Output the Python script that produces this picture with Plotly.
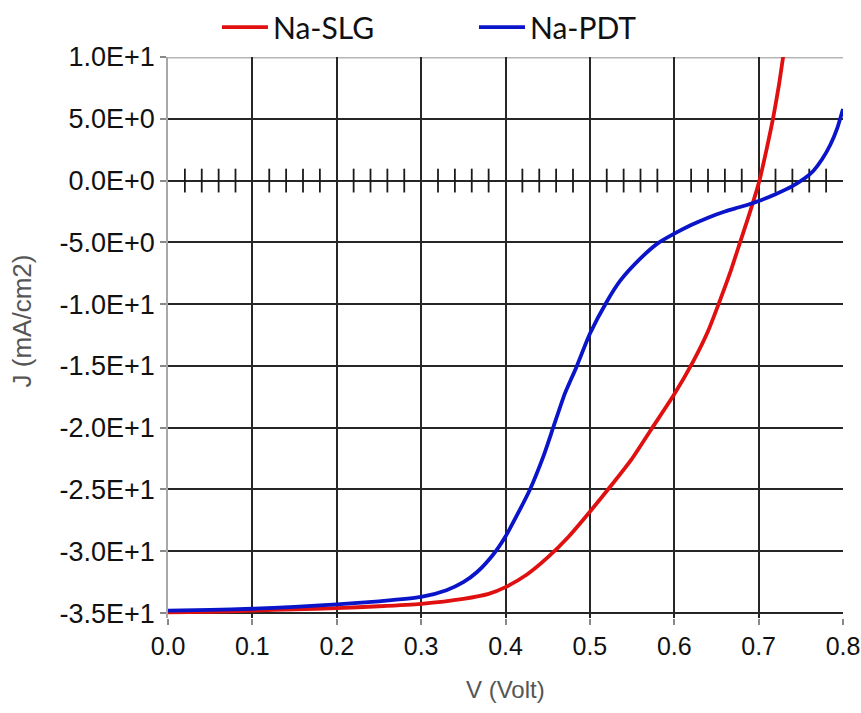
import plotly.graph_objects as go

# ---- data ----
v_slg = [0.0, 0.05, 0.1, 0.15, 0.2, 0.25, 0.3, 0.35, 0.38, 0.4, 0.425, 0.45, 0.475, 0.5,
         0.525, 0.55, 0.574, 0.6, 0.622, 0.64, 0.652, 0.666, 0.678, 0.69, 0.701, 0.71, 0.717,
         0.724, 0.729, 0.735]
j_slg = [-34.95, -34.9, -34.8, -34.7, -34.6, -34.45, -34.25, -33.85, -33.45, -32.9, -31.9, -30.5,
         -28.8, -26.8, -24.7, -22.5, -20.0, -17.3, -14.7, -12.2, -10.1, -7.5, -5.0, -2.5, 0.0,
         2.7, 5.0, 7.7, 10.0, 12.6]

v_pdt = [0.0, 0.05, 0.1, 0.15, 0.2, 0.25, 0.3, 0.33, 0.35, 0.366, 0.385, 0.4, 0.415, 0.429,
         0.445, 0.457, 0.47, 0.484, 0.5, 0.52, 0.536, 0.56, 0.58, 0.6, 0.62, 0.64, 0.66, 0.68,
         0.7, 0.72, 0.74, 0.755, 0.765, 0.775, 0.785, 0.793, 0.8]
j_pdt = [-34.8, -34.75, -34.65, -34.5, -34.3, -34.05, -33.7, -33.15, -32.5, -31.7, -30.3, -28.8,
         -26.9, -25.0, -22.3, -19.9, -17.3, -15.1, -12.4, -9.8, -8.1, -6.3, -5.1, -4.3, -3.6,
         -3.0, -2.5, -2.1, -1.65, -1.1, -0.45, 0.2, 0.8, 1.7, 2.9, 4.2, 5.8]

zero_minor_ticks = [0.02, 0.04, 0.06, 0.08, 0.12, 0.14, 0.16, 0.18, 0.22, 0.24, 0.26, 0.28,
                    0.32, 0.34, 0.36, 0.38, 0.42, 0.44, 0.46, 0.48, 0.52, 0.54, 0.56, 0.58,
                    0.62, 0.64, 0.66, 0.68, 0.72, 0.74, 0.76, 0.78]

x_ticks = [0.0, 0.1, 0.2, 0.3, 0.4, 0.5, 0.6, 0.7, 0.8]
x_ticklabels = ["0.0", "0.1", "0.2", "0.3", "0.4", "0.5", "0.6", "0.7", "0.8"]
y_ticks = [10, 5, 0, -5, -10, -15, -20, -25, -30, -35]
y_ticklabels = ["1.0E+1", "5.0E+0", "0.0E+0", "-5.0E+0", "-1.0E+1", "-1.5E+1",
                "-2.0E+1", "-2.5E+1", "-3.0E+1", "-3.5E+1"]

series_names = ["Na-SLG", "Na-PDT"]
RED = "#e01010"
BLUE = "#0a14c8"

fig = go.Figure()

# minor tick crosses on the zero line
fig.add_trace(go.Scatter(
    x=zero_minor_ticks, y=[0] * len(zero_minor_ticks), mode="markers",
    marker=dict(symbol="line-ns-open", size=17, color="#1a1a1a",
                line=dict(color="#1a1a1a", width=1.8)),
    showlegend=False, hoverinfo="skip"))

fig.add_trace(go.Scatter(x=v_slg, y=j_slg, mode="lines", name=series_names[0],
                         line=dict(color=RED, width=3.8, shape="spline", smoothing=0.6),
                         legend="legend"))
fig.add_trace(go.Scatter(x=v_pdt, y=j_pdt, mode="lines", name=series_names[1],
                         line=dict(color=BLUE, width=3.8, shape="spline", smoothing=0.6),
                         legend="legend2"))

# top border (gray)
fig.add_shape(type="line", xref="x", yref="y", x0=0, x1=0.8, y0=10, y1=10,
              line=dict(color="#b5b5b5", width=3), layer="below")

ytickfont = dict(family="Liberation Sans, Arial, sans-serif", size=27, color="#111111")
xtickfont = dict(family="Liberation Sans, Arial, sans-serif", size=25, color="#111111")
legfont = dict(family="Lato, sans-serif", size=30, color="#111111")

fig.update_layout(
    width=861, height=713,
    margin=dict(l=168, r=18, t=57, b=95, autoexpand=False),
    paper_bgcolor="white", plot_bgcolor="white",
    showlegend=True,
    legend=dict(xref="container", yref="container", x=0.252, y=0.962,
                xanchor="left", yanchor="middle",
                orientation="h", font=legfont, bgcolor="rgba(0,0,0,0)", itemwidth=46),
    legend2=dict(xref="container", yref="container", x=0.5505, y=0.962,
                 xanchor="left", yanchor="middle",
                 orientation="h", font=legfont, bgcolor="rgba(0,0,0,0)", itemwidth=46),
    xaxis=dict(range=[0, 0.8], tickvals=x_ticks, ticktext=x_ticklabels,
               showgrid=True, gridcolor="#262626", gridwidth=1.6,
               zeroline=False, showline=False, automargin=False,
               ticklabeloverflow="allow",
               ticks="outside", ticklen=6, tickcolor="#888888", tickwidth=1.5,
               tickfont=xtickfont),
    yaxis=dict(range=[-35.4, 10], tickvals=y_ticks, ticktext=y_ticklabels,
               showgrid=True, gridcolor="#262626", gridwidth=1.6,
               zeroline=False, showline=True, linecolor="#a8a8a8", linewidth=1.6,
               automargin=False,
               ticks="outside", ticklen=6, tickcolor="#888888", tickwidth=1.5,
               tickfont=ytickfont),
    annotations=[
        dict(text="V (Volt)", xref="paper", yref="paper", x=0.5, y=-0.128,
             xanchor="center", yanchor="middle", showarrow=False,
             font=dict(family="Liberation Sans, Arial, sans-serif", size=24, color="#555555")),
        dict(text="J (mA/cm2)", xref="paper", yref="paper", x=-0.216, y=0.529, textangle=-90,
             xanchor="center", yanchor="middle", showarrow=False,
             font=dict(family="Liberation Sans, Arial, sans-serif", size=26, color="#555555")),
    ],
)

fig.write_html("out.html")
